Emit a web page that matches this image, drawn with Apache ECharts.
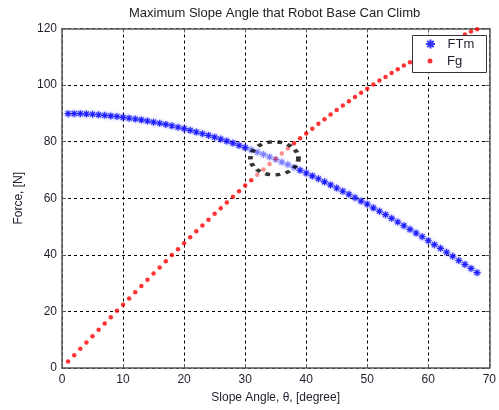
<!DOCTYPE html>
<html>
<head>
<meta charset="utf-8">
<script src="https://cdn.jsdelivr.net/npm/echarts@6/dist/echarts.min.js"></script>
<style>
  html, body { margin: 0; padding: 0; background: #fff; }
  #chart { width: 499px; height: 410px; }
</style>
</head>
<body>
<div id="chart"></div>
<script>
// Slope angle in degrees
const angles = [
  1, 2, 3, 4, 5, 6, 7, 8, 9, 10, 11, 12, 13, 14, 15, 16, 17,
  18, 19, 20, 21, 22, 23, 24, 25, 26, 27, 28, 29, 30, 31, 32, 33, 34,
  35, 36, 37, 38, 39, 40, 41, 42, 43, 44, 45, 46, 47, 48, 49, 50, 51,
  52, 53, 54, 55, 56, 57, 58, 59, 60, 61, 62, 63, 64, 65, 66, 67, 68
];

// Traction force available (N)
const ftm = [
  89.9, 89.9, 89.9, 89.8, 89.7, 89.5, 89.3, 89.1, 88.9, 88.6, 88.3, 88.0, 87.7, 87.3, 86.9, 86.5, 86.1,
  85.6, 85.1, 84.6, 84.0, 83.4, 82.8, 82.2, 81.6, 80.9, 80.2, 79.5, 78.7, 77.9, 77.1, 76.3, 75.5, 74.6,
  73.7, 72.8, 71.9, 70.9, 69.9, 68.9, 67.9, 66.9, 65.8, 64.7, 63.6, 62.5, 61.4, 60.2, 59.0, 57.9, 56.6,
  55.4, 54.2, 52.9, 51.6, 50.3, 49.0, 47.7, 46.4, 45.0, 43.6, 42.3, 40.9, 39.5, 38.0, 36.6, 35.2, 33.7
];

// Gravity component along the slope (N)
const fg = [
  2.3, 4.5, 6.8, 9.0, 11.2, 13.5, 15.7, 17.9, 20.2, 22.4, 24.6, 26.8, 29.0, 31.2, 33.4, 35.5, 37.7,
  39.9, 42.0, 44.1, 46.2, 48.3, 50.4, 52.4, 54.5, 56.5, 58.5, 60.5, 62.5, 64.5, 66.4, 68.3, 70.2, 72.1,
  74.0, 75.8, 77.6, 79.4, 81.2, 82.9, 84.6, 86.3, 87.9, 89.6, 91.2, 92.8, 94.3, 95.8, 97.3, 98.7, 100.2,
  101.6, 102.9, 104.3, 105.6, 106.9, 108.1, 109.4, 110.6, 111.7, 112.8, 113.9, 115.0, 116.0, 117.0, 117.9, 118.9, 119.7
];

// Axis ticks
const xTicks = [0, 10, 20, 30, 40, 50, 60, 70];
const yTicks = [0, 20, 40, 60, 80, 100, 120];

// Crossing point that is circled
const crossing = [34.8, 74.1];

// Angles whose markers are drawn faded inside the circled area
const ftmFaded = [31, 38];
const fgFaded = [32, 37];

const FONT = 'Liberation Sans, Arial, sans-serif';
const asterisk = 'path://M0,-10L0,10M-10,0L10,0M-7,-7L7,7M-7,7L7,-7';
const labelFont = { fontFamily: FONT, fontSize: 12, color: '#1e1e2e' };

function points(xs, ys, range, fadedOpacity) {
  return xs.map((x, i) => {
    const item = { value: [x, ys[i]] };
    if (x >= range[0] && x <= range[1]) item.itemStyle = { opacity: fadedOpacity };
    return item;
  });
}

const chart = echarts.init(document.getElementById('chart'), null, { renderer: 'canvas' });

const gridLine = { show: true, lineStyle: { color: '#000', width: 1, type: [3, 3] } };
const frame = { show: true, onZero: false, lineStyle: { color: '#5a5a5a', width: 1.5 } };
const ticks = { show: true, inside: true, length: 4, lineStyle: { color: '#5a5a5a' } };
const legendText = { fontFamily: FONT, fontSize: 13, color: '#1e1e2e', lineHeight: 14 };

chart.setOption({
  backgroundColor: '#fff',
  animation: false,
  title: {
    text: 'Maximum Slope Angle that Robot Base Can Climb',
    left: 129, top: 7, padding: 0,
    textStyle: { fontFamily: FONT, fontSize: 13, fontWeight: 'normal', color: '#222' }
  },
  grid: { left: 62, right: 7, top: 28.5, bottom: 42, show: false },
  // legend frame
  graphic: [{
    type: 'rect', left: 412, top: 35, z: 10,
    shape: { width: 74, height: 37 },
    style: { fill: '#fff', stroke: '#333', lineWidth: 1 }
  }],
  legend: [{
    orient: 'vertical', left: 425, top: 37, padding: 0, z: 11,
    itemWidth: 24, itemHeight: 9,
    textStyle: legendText,
    data: ['FTm']
  }, {
    orient: 'vertical', left: 427.5, top: 54, padding: 0, z: 11,
    itemWidth: 24, itemHeight: 5,
    textStyle: legendText,
    data: ['Fg']
  }],
  xAxis: [{
    type: 'value', min: xTicks[0], max: xTicks[xTicks.length - 1], interval: 10,
    position: 'bottom',
    name: 'Slope Angle, \u03b8, [degree]', nameLocation: 'middle', nameGap: 24,
    nameTextStyle: labelFont,
    axisLine: frame, axisTick: ticks,
    axisLabel: Object.assign({ margin: 6 }, labelFont),
    splitLine: gridLine
  }, {
    type: 'value', min: xTicks[0], max: xTicks[xTicks.length - 1], interval: 10,
    position: 'top',
    axisLine: frame, axisTick: ticks,
    axisLabel: { show: false },
    splitLine: { show: false }
  }],
  yAxis: [{
    type: 'value', min: yTicks[0], max: yTicks[yTicks.length - 1], interval: 20,
    position: 'left',
    name: 'Force, [N]', nameLocation: 'middle', nameGap: 37,
    nameTextStyle: labelFont,
    axisLine: frame, axisTick: ticks,
    axisLabel: Object.assign({ margin: 5 }, labelFont),
    splitLine: gridLine
  }, {
    type: 'value', min: yTicks[0], max: yTicks[yTicks.length - 1], interval: 20,
    position: 'right',
    axisLine: frame, axisTick: ticks,
    axisLabel: { show: false },
    splitLine: { show: false }
  }],
  series: [
    {
      name: 'FTm', type: 'scatter',
      symbol: asterisk, symbolSize: 7,
      itemStyle: {
        color: '#0000ff', borderColor: '#0000ff', borderWidth: 1.1,
        shadowColor: 'rgba(80,80,255,0.9)', shadowBlur: 2.5
      },
      data: points(angles, ftm, ftmFaded, 0.4),
      z: 3
    },
    {
      name: 'Fg', type: 'scatter',
      symbol: 'circle', symbolSize: 4.5,
      itemStyle: { color: '#ff0000' },
      data: points(angles, fg, fgFaded, 0.45),
      z: 3
    },
    {
      type: 'scatter',
      symbol: 'circle', symbolSize: [48, 33],
      silent: true,
      itemStyle: { color: 'rgba(0,0,0,0)', borderColor: '#000', borderWidth: 4, borderType: [4, 4.7] },
      data: [crossing],
      z: 4
    }
  ]
});
</script>
</body>
</html>
